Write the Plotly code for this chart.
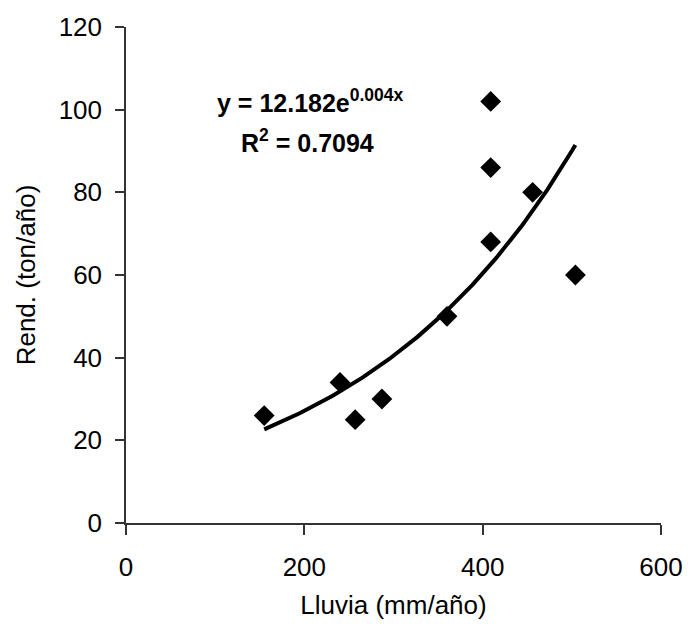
import numpy as np
import plotly.graph_objects as go

# Data
lluvia = [155, 240, 257, 287, 360, 409, 409, 409, 456, 504]
rend = [26, 34, 25, 30, 50, 68, 86, 102, 80, 60]

# Trend line coefficients (as printed on chart)
trend_a = 12.182
trend_b = 0.004

x_ticks = [0, 200, 400, 600]
y_ticks = [0, 20, 40, 60, 80, 100, 120]

xt = np.linspace(min(lluvia), max(lluvia), 200)
yt = trend_a * np.exp(trend_b * xt)

fig = go.Figure()
fig.add_trace(go.Scatter(x=xt, y=yt, mode="lines",
                         line=dict(color="black", width=4), showlegend=False))
fig.add_trace(go.Scatter(x=lluvia, y=rend, mode="markers",
                         marker=dict(symbol="diamond", size=16, color="black"),
                         showlegend=False))

font_fam = "Liberation Sans, Arial, sans-serif"
fig.add_annotation(x=207, y=102.1, xref="x", yref="y",
                   text="<b>y = 12.182e<sup>0.004x</sup></b>", showarrow=False,
                   font=dict(family=font_fam, size=25, color="black"))
fig.add_annotation(x=204, y=92.5, xref="x", yref="y",
                   text="<b>R<sup>2</sup> = 0.7094</b>", showarrow=False,
                   font=dict(family=font_fam, size=25, color="black"))

fig.update_layout(
    width=688, height=626,
    margin=dict(l=126, r=27, t=27, b=103),
    paper_bgcolor="white", plot_bgcolor="white",
    font=dict(family=font_fam, size=26, color="black"),
    xaxis=dict(range=[0, 600], tickvals=x_ticks, showgrid=False, zeroline=False,
               automargin=False,
               showline=True, linecolor="#333333", linewidth=1.5,
               ticks="outside", ticklen=10, tickcolor="#333333", tickwidth=1.5,
               ticklabelstandoff=10,
               title=dict(text="Lluvia (mm/año)", font=dict(size=26), standoff=15)),
    yaxis=dict(range=[0, 120], tickvals=y_ticks, showgrid=False, zeroline=False,
               automargin=False,
               showline=True, linecolor="#333333", linewidth=1.5,
               ticks="outside", ticklen=9, tickcolor="#333333", tickwidth=1.5,
               ticklabelstandoff=8,
               title=dict(text="Rend. (ton/año)", font=dict(size=26), standoff=16)),
)

fig.write_html("out.html")
